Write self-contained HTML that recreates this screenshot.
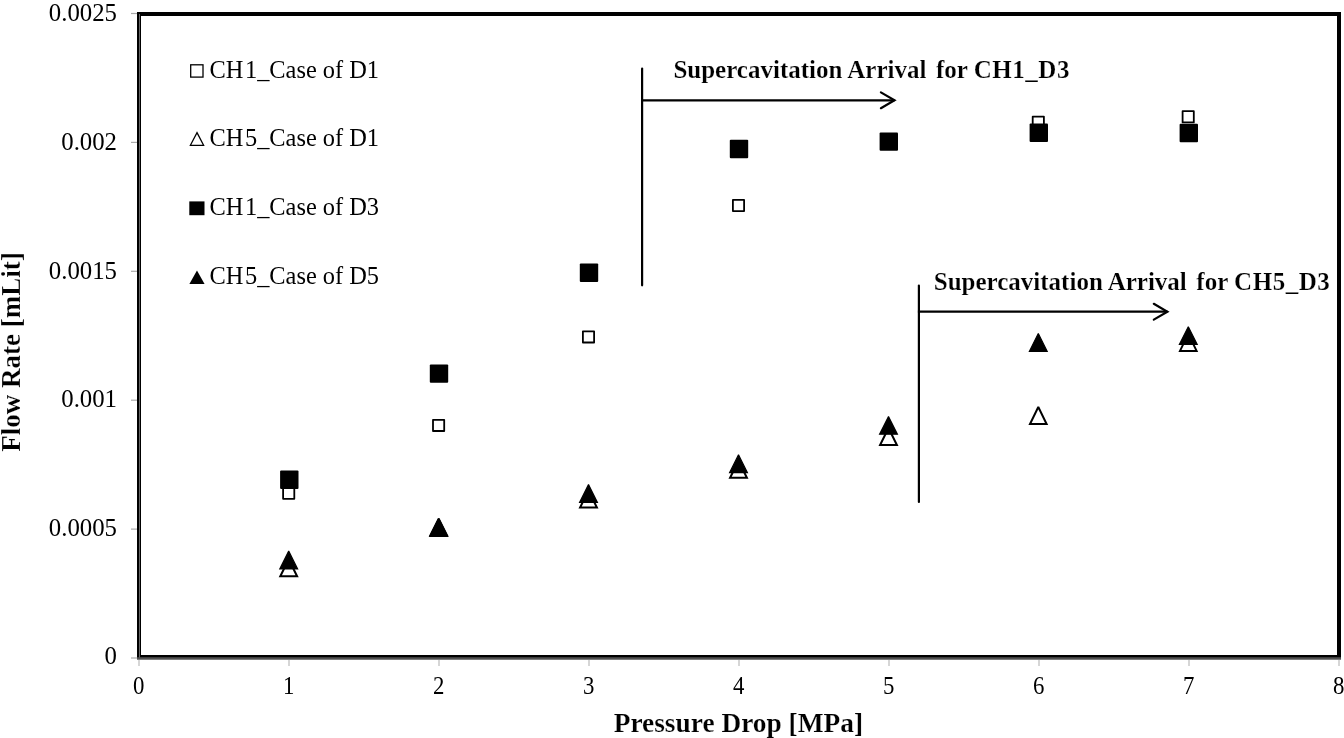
<!DOCTYPE html><html><head><meta charset="utf-8"><style>html,body{margin:0;padding:0;background:#fff;}svg{display:block;will-change:transform;}text{font-family:"Liberation Serif",serif;fill:#000;}.b{font-weight:bold;stroke:#fff;stroke-width:0.2px;}</style></head><body><svg width="1344" height="738" viewBox="0 0 1344 738"><rect x="0" y="0" width="1344" height="738" fill="#fff"/><rect x="139" y="14" width="1200" height="643" fill="none" stroke="#000" stroke-width="4"/><line x1="139.5" y1="14" x2="139.5" y2="659" stroke="#666" stroke-width="1"/><line x1="137" y1="658.5" x2="1341" y2="658.5" stroke="#505050" stroke-width="2.5"/><line x1="131" y1="658.0" x2="137" y2="658.0" stroke="#aaa" stroke-width="1.2"/><text transform="translate(117,664.0) scale(1,1.05)" font-size="24.8" text-anchor="end">0</text><line x1="131" y1="529.1" x2="137" y2="529.1" stroke="#aaa" stroke-width="1.2"/><text transform="translate(117,536.3) scale(1,1.05)" font-size="24.8" text-anchor="end">0.0005</text><line x1="131" y1="400.2" x2="137" y2="400.2" stroke="#aaa" stroke-width="1.2"/><text transform="translate(117,407.4) scale(1,1.05)" font-size="24.8" text-anchor="end">0.001</text><line x1="131" y1="271.3" x2="137" y2="271.3" stroke="#aaa" stroke-width="1.2"/><text transform="translate(117,278.5) scale(1,1.05)" font-size="24.8" text-anchor="end">0.0015</text><line x1="131" y1="142.4" x2="137" y2="142.4" stroke="#aaa" stroke-width="1.2"/><text transform="translate(117,149.6) scale(1,1.05)" font-size="24.8" text-anchor="end">0.002</text><line x1="131" y1="13.5" x2="137" y2="13.5" stroke="#aaa" stroke-width="1.2"/><text transform="translate(117,20.7) scale(1,1.05)" font-size="24.8" text-anchor="end">0.0025</text><line x1="139.0" y1="660" x2="139.0" y2="666" stroke="#bbb" stroke-width="1.2"/><text transform="translate(138.7,693.8) scale(0.92,1.05)" font-size="24.8" text-anchor="middle">0</text><line x1="289.0" y1="660" x2="289.0" y2="666" stroke="#bbb" stroke-width="1.2"/><text transform="translate(288.7,693.8) scale(0.92,1.05)" font-size="24.8" text-anchor="middle">1</text><line x1="439.0" y1="660" x2="439.0" y2="666" stroke="#bbb" stroke-width="1.2"/><text transform="translate(438.7,693.8) scale(0.92,1.05)" font-size="24.8" text-anchor="middle">2</text><line x1="589.0" y1="660" x2="589.0" y2="666" stroke="#bbb" stroke-width="1.2"/><text transform="translate(588.7,693.8) scale(0.92,1.05)" font-size="24.8" text-anchor="middle">3</text><line x1="739.0" y1="660" x2="739.0" y2="666" stroke="#bbb" stroke-width="1.2"/><text transform="translate(738.7,693.8) scale(0.92,1.05)" font-size="24.8" text-anchor="middle">4</text><line x1="889.0" y1="660" x2="889.0" y2="666" stroke="#bbb" stroke-width="1.2"/><text transform="translate(888.7,693.8) scale(0.92,1.05)" font-size="24.8" text-anchor="middle">5</text><line x1="1039.0" y1="660" x2="1039.0" y2="666" stroke="#bbb" stroke-width="1.2"/><text transform="translate(1038.7,693.8) scale(0.92,1.05)" font-size="24.8" text-anchor="middle">6</text><line x1="1189.0" y1="660" x2="1189.0" y2="666" stroke="#bbb" stroke-width="1.2"/><text transform="translate(1188.7,693.8) scale(0.92,1.05)" font-size="24.8" text-anchor="middle">7</text><line x1="1339.0" y1="660" x2="1339.0" y2="666" stroke="#bbb" stroke-width="1.2"/><text transform="translate(1338.7,693.8) scale(0.92,1.05)" font-size="24.8" text-anchor="middle">8</text><text transform="translate(738.4,731.6) scale(1,1.03)" font-size="27.4" class="b" text-anchor="middle">Pressure Drop [MPa]</text><text transform="translate(19.5,352) rotate(-90)" x="0" y="0" font-size="27" class="b" text-anchor="middle">Flow Rate [mLit]</text><text transform="translate(209.5,77.5) scale(1,1.06)" font-size="24.4">CH<tspan dx="1.6">1</tspan>_Case of D1</text><rect x="190.7" y="64.8" width="12.3" height="12.3" fill="#fff" stroke="#000" stroke-width="1.3"/><text transform="translate(209.5,145.8) scale(1,1.06)" font-size="24.4">CH<tspan dx="1.6">5</tspan>_Case of D1</text><polygon points="197,132.6 203.6,145.3 190.4,145.3" fill="#fff" stroke="#000" stroke-width="1.3"/><text transform="translate(209.5,215.2) scale(1,1.06)" font-size="24.4">CH<tspan dx="1.6">1</tspan>_Case of D3</text><rect x="189.3" y="201.4" width="15.2" height="13.8" fill="#000"/><text transform="translate(209.5,284) scale(1,1.06)" font-size="24.4">CH<tspan dx="1.6">5</tspan>_Case of D5</text><polygon points="197,270.5 204.6,284.0 189.4,284.0" fill="#000"/><rect x="283.1" y="487.6" width="11.2" height="11.2" fill="#fff" stroke="#000" stroke-width="1.8" stroke-linejoin="round"/><rect x="433.0" y="419.8" width="11.2" height="11.2" fill="#fff" stroke="#000" stroke-width="1.8" stroke-linejoin="round"/><rect x="582.9" y="331.3" width="11.2" height="11.2" fill="#fff" stroke="#000" stroke-width="1.8" stroke-linejoin="round"/><rect x="732.9" y="199.9" width="11.2" height="11.2" fill="#fff" stroke="#000" stroke-width="1.8" stroke-linejoin="round"/><rect x="882.9" y="137.4" width="11.2" height="11.2" fill="#fff" stroke="#000" stroke-width="1.8" stroke-linejoin="round"/><rect x="1032.7" y="116.6" width="11.2" height="11.2" fill="#fff" stroke="#000" stroke-width="1.8" stroke-linejoin="round"/><rect x="1182.6" y="111.2" width="11.2" height="11.2" fill="#fff" stroke="#000" stroke-width="1.8" stroke-linejoin="round"/><polygon points="288.7,559.3 297.1,576.3 280.3,576.3" fill="#fff" stroke="#000" stroke-width="2" stroke-linejoin="miter" stroke-miterlimit="2"/><polygon points="438.7,518.6 447.1,535.6 430.3,535.6" fill="#fff" stroke="#000" stroke-width="2" stroke-linejoin="miter" stroke-miterlimit="2"/><polygon points="588.5,490.5 596.9,507.5 580.1,507.5" fill="#fff" stroke="#000" stroke-width="2" stroke-linejoin="miter" stroke-miterlimit="2"/><polygon points="738.5,460.8 746.9,477.8 730.1,477.8" fill="#fff" stroke="#000" stroke-width="2" stroke-linejoin="miter" stroke-miterlimit="2"/><polygon points="888.5,428.0 896.9,445.0 880.1,445.0" fill="#fff" stroke="#000" stroke-width="2" stroke-linejoin="miter" stroke-miterlimit="2"/><polygon points="1038.3,407.0 1046.6,424.0 1030.0,424.0" fill="#fff" stroke="#000" stroke-width="2" stroke-linejoin="miter" stroke-miterlimit="2"/><polygon points="1188.3,333.9 1196.6,350.9 1180.0,350.9" fill="#fff" stroke="#000" stroke-width="2" stroke-linejoin="miter" stroke-miterlimit="2"/><rect x="280.1" y="470.5" width="18.4" height="18.4" fill="#000" rx="1"/><rect x="429.8" y="364.4" width="18.4" height="18.4" fill="#000" rx="1"/><rect x="579.8" y="263.6" width="18.4" height="18.4" fill="#000" rx="1"/><rect x="729.8" y="139.8" width="18.4" height="18.4" fill="#000" rx="1"/><rect x="879.6" y="132.4" width="18.4" height="18.4" fill="#000" rx="1"/><rect x="1029.6" y="123.6" width="18.4" height="18.4" fill="#000" rx="1"/><rect x="1179.6" y="123.8" width="18.4" height="18.4" fill="#000" rx="1"/><polygon points="288.7,551.1 297.6,568.9 279.8,568.9" fill="#000" stroke="#000" stroke-width="1.2" stroke-linejoin="miter" stroke-miterlimit="2"/><polygon points="438.7,518.5 447.6,536.3 429.8,536.3" fill="#000" stroke="#000" stroke-width="1.2" stroke-linejoin="miter" stroke-miterlimit="2"/><polygon points="588.5,484.5 597.4,502.3 579.6,502.3" fill="#000" stroke="#000" stroke-width="1.2" stroke-linejoin="miter" stroke-miterlimit="2"/><polygon points="738.5,454.8 747.4,472.6 729.6,472.6" fill="#000" stroke="#000" stroke-width="1.2" stroke-linejoin="miter" stroke-miterlimit="2"/><polygon points="888.5,416.4 897.4,434.2 879.6,434.2" fill="#000" stroke="#000" stroke-width="1.2" stroke-linejoin="miter" stroke-miterlimit="2"/><polygon points="1038.3,333.6 1047.2,351.4 1029.4,351.4" fill="#000" stroke="#000" stroke-width="1.2" stroke-linejoin="miter" stroke-miterlimit="2"/><polygon points="1188.3,326.7 1197.2,344.5 1179.4,344.5" fill="#000" stroke="#000" stroke-width="1.2" stroke-linejoin="miter" stroke-miterlimit="2"/><line x1="642.1" y1="68.5" x2="642.1" y2="285.3" stroke="#000" stroke-width="2.2" stroke-linecap="round"/><line x1="641.1" y1="100.3" x2="894.5" y2="100.3" stroke="#000" stroke-width="2.2"/><polyline points="880.9,92.39999999999999 894.5,100.3 880.9,108.2" fill="none" stroke="#000" stroke-width="2.2" stroke-linecap="round" stroke-linejoin="miter"/><line x1="918.9" y1="285.5" x2="918.9" y2="502" stroke="#000" stroke-width="2.2" stroke-linecap="round"/><line x1="917.9" y1="311.7" x2="1167.4" y2="311.7" stroke="#000" stroke-width="2.2"/><polyline points="1153.8000000000002,303.8 1167.4,311.7 1153.8000000000002,319.59999999999997" fill="none" stroke="#000" stroke-width="2.2" stroke-linecap="round" stroke-linejoin="miter"/><text x="673.4" y="77.8" font-size="25" class="b" xml:space="preserve">Supercavitation Arrival  <tspan dx="-3">for</tspan> <tspan letter-spacing="0.55">CH1_D3</tspan></text><text x="933.8" y="289.6" font-size="25" class="b" xml:space="preserve">Supercavitation Arrival  <tspan dx="-3">for</tspan> <tspan letter-spacing="0.55">CH5_D3</tspan></text></svg></body></html>
